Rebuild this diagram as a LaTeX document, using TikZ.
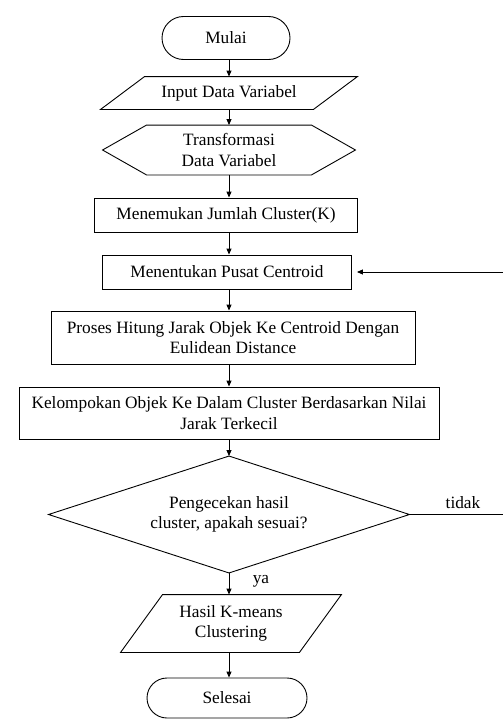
\documentclass[tikz,border=0pt]{standalone}
\usepackage{fontspec}
\setmainfont{Liberation Serif}
\newfontfamily\tnrfont{Liberation Serif}
\usetikzlibrary{shapes.misc,arrows.meta,calc}
\begin{document}
\begin{tikzpicture}[x=1pt,y=-1pt,
  font=\tnrfont\fontsize{17.3}{20.5}\selectfont,
  line width=0.9pt,
  base/.style={inner sep=0pt, align=center},
  term/.style={base, draw, rounded rectangle, minimum height=43},
  proc/.style={base, draw, rectangle},
  ghost/.style={base, rectangle},
  arr/.style={-{Triangle[length=6pt,width=5pt]}}
]
\useasboundingbox[fill=white] (0,0) rectangle (503,720);
\coordinate (ax) at (229,0);
\coordinate (edge) at (503,0);

% Start
\node[term, minimum width=128] (start) at (226,38) {Mulai};

% Input (parallelogram)
\node[ghost, minimum width=212, minimum height=32] (in) at (229,93) {Input Data Variabel};
\draw ($(in.north west)+(22,0)$) -- ($(in.north east)+(22,0)$) -- ($(in.south east)-(22,0)$) -- ($(in.south west)-(22,0)$) -- cycle;

% Transformasi (hexagon)
\node[ghost, minimum width=164, minimum height=49] (tr) at (229,150) {Transformasi\\Data Variabel};
\draw (tr.north west) -- (tr.north east) -- ($(tr.east)+(44,0)$) -- (tr.south east) -- (tr.south west) -- ($(tr.west)-(44,0)$) -- cycle;

% Process boxes
\node[proc, minimum width=263, minimum height=34] (jml) at (226,215) {Menemukan Jumlah Cluster(K)};
\node[proc, minimum width=249, minimum height=34] (pusat) at (227,272) {Menentukan Pusat Centroid};
\node[proc, minimum width=364, minimum height=53] (hit) at (233,337.5) {Proses Hitung Jarak Objek Ke Centroid Dengan\\Eulidean Distance};
\node[proc, minimum width=420, minimum height=52] (kel) at (229,413) {Kelompokan Objek Ke Dalam Cluster Berdasarkan Nilai\\Jarak Terkecil};

% Decision (diamond)
\node[ghost, minimum width=360, minimum height=116] (dec) at (229,514.5) {Pengecekan hasil\\cluster, apakah sesuai?};
\draw (dec.north) -- (dec.east) -- (dec.south) -- (dec.west) -- cycle;

% Output (parallelogram)
\node[ghost, minimum width=178, minimum height=57] (out) at (231,623.5) {Hasil K-means\\Clustering};
\draw ($(out.north west)+(21,0)$) -- ($(out.north east)+(21,0)$) -- ($(out.south east)-(21,0)$) -- ($(out.south west)-(21,0)$) -- cycle;

% End
\node[term, minimum width=160, minimum height=40] (end) at (227,698) {Selesai};

% Labels
\node[base] (ya) at (261,581) {ya};
\node[base] (tidak) at (463,503) {tidak};

% Connectors
\draw[arr] (start.south -| ax) -- (in.north -| ax);
\draw[arr] (in.south -| ax) -- (tr.north -| ax);
\draw[arr] (tr.south -| ax) -- (jml.north -| ax);
\draw[arr] (jml.south -| ax) -- (pusat.north -| ax);
\draw[arr] (pusat.south -| ax) -- (hit.north -| ax);
\draw[arr] (hit.south -| ax) -- (kel.north -| ax);
\draw[arr] (kel.south -| ax) -- (dec.north -| ax);
\draw[arr] (dec.south -| ax) -- (out.north -| ax);
\draw[arr] (out.south -| ax) -- (end.north -| ax);
\draw (dec.east) -- (dec.east -| edge);
\draw[arr, shorten >=5pt] (pusat.east -| edge) -- (pusat.east);
\end{tikzpicture}
\end{document}
